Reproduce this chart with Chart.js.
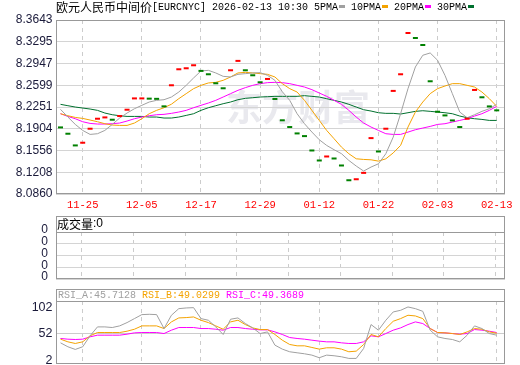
<!DOCTYPE html>
<html>
<head>
<meta charset="utf-8">
<script src="https://cdn.jsdelivr.net/npm/chart.js@4/dist/chart.umd.min.js"></script>
<style>
  body { margin: 0; background: #fff; }
  canvas { position: absolute; left: 0; }
</style>
</head>
<body>
<canvas id="main" width="520" height="212" style="top:0"></canvas>
<canvas id="vol" width="520" height="70" style="top:212px"></canvas>
<canvas id="rsi" width="520" height="81" style="top:284px"></canvas>
<script>
// trading days shown (central parity, EUR/CNY)
const dates = ['11-20','11-21','11-24','11-25','11-26','11-27','11-28','12-01','12-02','12-03',
  '12-04','12-05','12-08','12-09','12-10','12-11','12-12','12-15','12-16','12-17',
  '12-18','12-19','12-22','12-23','12-24','12-25','12-26','12-29','12-30','12-31',
  '01-05','01-06','01-07','01-08','01-09','01-12','01-13','01-14','01-15','01-16',
  '01-19','01-20','01-21','01-22','01-23','01-26','01-27','01-28','01-29','01-30',
  '02-02','02-03','02-04','02-05','02-06','02-09','02-10','02-11','02-12','02-13']
const tickDates = ['11-25','12-05','12-17','12-29','01-12','01-22','02-03','02-13']
const yTicks = [8.3643, 8.3295, 8.2947, 8.2599, 8.2251, 8.1904, 8.1556, 8.1208, 8.0860]

const closes = [8.1925, 8.1824, 8.1637, 8.1680, 8.1904, 8.2064, 8.2085, 8.2048, 8.2107, 8.2208,
  8.2389, 8.2389, 8.2385, 8.2382, 8.2262, 8.2599, 8.2855, 8.2871, 8.2919, 8.2829,
  8.2775, 8.2631, 8.2551, 8.2839, 8.2989, 8.2839, 8.2759, 8.2647, 8.2700, 8.2380,
  8.2039, 8.1931, 8.1829, 8.1786, 8.1556, 8.1396, 8.1460, 8.1428, 8.1316, 8.1080,
  8.1096, 8.1198, 8.1754, 8.1540, 8.1904, 8.2509, 8.2775, 8.3435, 8.3355, 8.3243,
  8.2663, 8.2176, 8.2117, 8.2037, 8.1931, 8.2064, 8.2524, 8.2407, 8.2261, 8.2198]

const ma5 = [8.2214, 8.2091, 8.1973, 8.1877, 8.1813, 8.1824, 8.1877, 8.1973, 8.2075, 8.2155,
  8.2224, 8.2278, 8.2331, 8.2358, 8.2368, 8.2411, 8.2491, 8.2598, 8.2716, 8.2828,
  8.2838, 8.2796, 8.2742, 8.2732, 8.2774, 8.2785, 8.2796, 8.2801, 8.2758, 8.2678,
  8.2496, 8.2358, 8.2144, 8.1984, 8.1851, 8.1728, 8.1637, 8.1568, 8.1505, 8.1397,
  8.1307, 8.1227, 8.1291, 8.1343, 8.1504, 8.1770, 8.2144, 8.2545, 8.2892, 8.3079,
  8.3116, 8.2999, 8.2758, 8.2465, 8.2171, 8.2080, 8.2128, 8.2182, 8.2224, 8.2294]

const ma10 = [8.2144, 8.2112, 8.2085, 8.2069, 8.2043, 8.2016, 8.1984, 8.1963, 8.1957, 8.1957,
  8.1995, 8.2064, 8.2144, 8.2198, 8.2240, 8.2296, 8.2385, 8.2465, 8.2545, 8.2598,
  8.2636, 8.2646, 8.2678, 8.2732, 8.2796, 8.2806, 8.2796, 8.2785, 8.2774, 8.2732,
  8.2625, 8.2545, 8.2491, 8.2358, 8.2198, 8.2037, 8.1877, 8.1744, 8.1610, 8.1504,
  8.1423, 8.1413, 8.1407, 8.1386, 8.1423, 8.1517, 8.1637, 8.1931, 8.2171, 8.2331,
  8.2465, 8.2545, 8.2587, 8.2625, 8.2625, 8.2598, 8.2571, 8.2491, 8.2385, 8.2262]

const ma20 = [8.2144, 8.2101, 8.2064, 8.2016, 8.1989, 8.1979, 8.1979, 8.1984, 8.1995, 8.2027,
  8.2064, 8.2091, 8.2112, 8.2128, 8.2134, 8.2150, 8.2171, 8.2198, 8.2240, 8.2278,
  8.2315, 8.2358, 8.2411, 8.2465, 8.2518, 8.2561, 8.2598, 8.2625, 8.2641, 8.2646,
  8.2641, 8.2625, 8.2598, 8.2571, 8.2529, 8.2475, 8.2422, 8.2358, 8.2294, 8.2198,
  8.2091, 8.1995, 8.1931, 8.1877, 8.1824, 8.1813, 8.1813, 8.1850, 8.1888, 8.1915,
  8.1941, 8.1973, 8.1984, 8.2011, 8.2037, 8.2064, 8.2107, 8.2144, 8.2198, 8.2262]

const ma30 = [8.2294, 8.2272, 8.2251, 8.2235, 8.2219, 8.2198, 8.2155, 8.2128, 8.2112, 8.2101,
  8.2101, 8.2101, 8.2091, 8.2091, 8.2075, 8.2075, 8.2091, 8.2117, 8.2144, 8.2198,
  8.2240, 8.2272, 8.2304, 8.2331, 8.2368, 8.2390, 8.2400, 8.2411, 8.2416, 8.2422,
  8.2422, 8.2422, 8.2422, 8.2433, 8.2422, 8.2411, 8.2384, 8.2358, 8.2331, 8.2294,
  8.2251, 8.2208, 8.2187, 8.2160, 8.2150, 8.2150, 8.2139, 8.2160, 8.2182, 8.2192,
  8.2182, 8.2171, 8.2160, 8.2144, 8.2107, 8.2080, 8.2064, 8.2053, 8.2037, 8.2037]

const volume = new Array(60).fill(0)

const rsiA = [35.1, 27.7, 22.7, 27.7, 48.3, 65.1, 65.1, 63.9, 67.0, 73.2,
  80.7, 88.2, 88.8, 88.2, 62.0, 87.0, 99.4, 100.7, 101.3, 80.7,
  77.6, 65.1, 50.8, 79.5, 82.0, 71.4, 63.2, 52.6, 55.7, 30.8,
  23.3, 18.3, 16.4, 14.5, 12.0, 7.1, 12.0, 10.8, 8.9, 5.8,
  5.8, 24.5, 69.5, 58.9, 77.6, 93.2, 96.3, 102.6, 99.4, 94.4,
  58.9, 46.4, 43.3, 41.4, 37.0, 49.5, 67.0, 62.0, 52.6, 49.5]
const rsiB = [42.0, 37.0, 33.9, 37.0, 48.3, 54.5, 54.5, 54.5, 54.5, 57.0,
  60.7, 67.0, 67.0, 67.0, 62.0, 74.5, 82.0, 82.6, 83.8, 77.6,
  73.2, 67.0, 60.7, 74.5, 77.6, 69.5, 63.2, 60.1, 60.1, 50.8,
  40.1, 32.0, 29.5, 29.5, 26.4, 23.3, 25.8, 25.8, 23.3, 18.3,
  19.5, 32.0, 50.8, 46.4, 62.0, 75.7, 80.7, 87.0, 85.7, 80.7,
  62.0, 54.5, 53.9, 52.6, 50.8, 55.7, 62.0, 60.7, 55.7, 53.2]
const rsiC = [43.3, 42.0, 41.4, 42.0, 46.4, 49.5, 49.5, 49.5, 49.5, 51.4,
  53.9, 54.5, 54.5, 54.5, 52.6, 58.9, 63.9, 63.9, 63.9, 62.0,
  62.0, 60.7, 58.9, 63.9, 63.9, 62.0, 60.7, 59.5, 59.5, 55.7,
  50.8, 45.1, 43.3, 42.0, 40.1, 38.3, 37.0, 37.0, 35.1, 33.9,
  33.9, 37.0, 48.3, 46.4, 52.6, 58.9, 63.2, 69.5, 74.5, 71.4,
  62.0, 54.5, 53.9, 52.6, 51.4, 52.6, 60.1, 58.9, 57.0, 54.5]
const rsiTicks = [102, 52, 2]
const rsiLabels = ['RSI_A:45.7128', 'RSI_B:49.0299', 'RSI_C:49.3689']

const maNames = ['5PMA', '10PMA', '20PMA', '30PMA']
const maColors = ['#a0a0a0', '#f4a300', '#ff00ff', '#00702e']
const UP = '#ff0000', DOWN = '#008000'

const pts = arr => arr.map((v, i) => ({ x: i, y: v }))
const tickIdx = tickDates.map(d => dates.indexOf(d))
// red when the fix rose (or held) vs the day before, green when it fell
const closeColors = closes.map((v, i) => (i > 0 && v >= closes[i - 1]) ? UP : DOWN)

const MONO = '"Liberation Mono", "DejaVu Sans Mono", monospace'
const CJK = '"Noto Sans CJK SC", sans-serif'
const SANS = '"Liberation Sans", Arial, sans-serif'

function monoText(ctx, str, x, y, color) {
  ctx.fillStyle = color
  ctx.font = '11px ' + MONO
  ctx.fillText(str, x, y, str.length * 6)
  return x + str.length * 6
}
function cjkText(ctx, str, x, y, color) {
  ctx.fillStyle = color
  ctx.font = '12px ' + CJK
  ctx.fillText(str, x, y)
  return x + ctx.measureText(str).width
}

// box round the plot area, plus an optional header strip above it
const frame = {
  id: 'frame',
  afterDraw(chart, args, opts) {
    const { ctx, chartArea: a } = chart
    const l = Math.round(a.left) + 0.5, r = Math.round(a.right) - 0.5
    const t = Math.round(a.top) + 0.5, b = Math.round(a.bottom) - 0.5
    ctx.save()
    ctx.strokeStyle = '#999'
    ctx.lineWidth = 1
    ctx.strokeRect(l, t, r - l, b - t)
    if (opts.header) ctx.strokeRect(l, t - opts.header, r - l, opts.header)
    ctx.textBaseline = 'middle'
    if (opts.draw) opts.draw(ctx, a)
    ctx.restore()
  }
}

const watermark = {
  id: 'watermark',
  beforeDraw(chart) {
    const ctx = chart.ctx
    ctx.save()
    ctx.fillStyle = '#e9e9ee'
    ctx.font = 'bold 36px ' + CJK
    ctx.textBaseline = 'middle'
    ctx.fillText('东方财富', 226, 107)
    ctx.restore()
  }
}

// y axes keep a fixed width and do not push the plot in for their labels
const fitY = s => {
  s.width = 56
  s.paddingTop = 0
  s.paddingBottom = 0
}

const xBase = {
  type: 'linear',
  min: -0.61,
  max: 60.12,
  afterBuildTicks: s => { s.ticks = tickIdx.map(v => ({ value: v })) },
  border: { display: false, dash: [4, 4] },
  grid: { color: '#cccccc', drawTicks: false }
}
const common = {
  responsive: false,
  animation: false,
  devicePixelRatio: 1,
  events: []
}
const noLegend = { legend: { display: false }, tooltip: { enabled: false } }

new Chart(document.getElementById('main'), {
  type: 'line',
  data: {
    datasets: [
      {
        data: pts(closes),
        showLine: false,
        pointStyle: 'line',
        pointRadius: 2.5,
        pointBorderWidth: 2,
        pointBorderColor: closeColors
      },
      ...[ma5, ma10, ma20, ma30].map((arr, k) => ({
        data: pts(arr),
        borderColor: maColors[k],
        borderWidth: 1,
        pointRadius: 0,
        tension: 0
      }))
    ]
  },
  options: {
    ...common,
    layout: { padding: { top: 20, right: 15, left: 0, bottom: 0 } },
    plugins: {
      ...noLegend,
      frame: {
        draw(ctx) {
          let x = cjkText(ctx, '欧元人民币中间价', 56, 7, '#000')
          x = monoText(ctx, '[EURCNYC] 2026-02-13 10:30 ', x, 7, '#000')
          maNames.forEach((n, k) => {
            x = monoText(ctx, n, x, 7, '#000')
            ctx.fillStyle = maColors[k]
            ctx.fillRect(x + 1, 5, 6, 3)
            x += 13
          })
        }
      }
    },
    scales: {
      x: {
        ...xBase,
        afterFit: s => { s.height = 18 },
        ticks: {
          color: '#ff0000',
          padding: 5,
          maxRotation: 0,
          font: { family: MONO, size: 10.5 },
          callback: v => dates[v]
        }
      },
      y: {
        min: 8.0860,
        max: 8.3643,
        afterBuildTicks: s => { s.ticks = yTicks.map(v => ({ value: v })) },
        afterFit: fitY,
        border: { display: false },
        grid: { color: '#d4d4d4', drawTicks: false },
        ticks: {
          color: '#1a1a3a',
          padding: 3.5,
          autoSkip: false,
          font: { family: SANS, size: 12 },
          callback: v => v.toFixed(4)
        }
      }
    }
  },
  plugins: [watermark, frame]
})

const maxVol = Math.max(...volume)
new Chart(document.getElementById('vol'), {
  type: 'bar',
  data: { datasets: [{ data: pts(volume), backgroundColor: '#ff0000' }] },
  options: {
    ...common,
    layout: { padding: { top: 20, right: 15, left: 0, bottom: 3 } },
    plugins: {
      ...noLegend,
      frame: {
        header: 16,
        draw(ctx, a) {
          const x = cjkText(ctx, '成交量', 57, a.top - 8, '#000')
          ctx.font = '12px ' + SANS
          ctx.fillText(':' + volume[volume.length - 1], x, a.top - 8)
        }
      }
    },
    scales: {
      x: { ...xBase, afterFit: s => { s.height = 0 }, ticks: { display: false } },
      y: {
        min: 0,
        max: 4,
        afterBuildTicks: s => { s.ticks = [0, 1, 2, 3, 4].map(v => ({ value: v })) },
        afterFit: fitY,
        border: { display: false },
        grid: { color: '#d4d4d4', drawTicks: false },
        ticks: {
          color: '#1a1a3a',
          padding: 8,
          autoSkip: false,
          labelOffset: -2,
          font: { family: SANS, size: 12 },
          callback: v => String(maxVol * v / 4)
        }
      }
    }
  },
  plugins: [frame]
})

new Chart(document.getElementById('rsi'), {
  type: 'line',
  data: {
    datasets: [rsiA, rsiB, rsiC].map((arr, k) => ({
      data: pts(arr),
      borderColor: maColors[k],
      borderWidth: 1,
      pointRadius: 0,
      tension: 0
    }))
  },
  options: {
    ...common,
    layout: { padding: { top: 17, right: 15, left: 0, bottom: 1 } },
    plugins: {
      ...noLegend,
      frame: {
        header: 12,
        draw(ctx, a) {
          let x = 58
          rsiLabels.forEach((s, k) => {
            x = monoText(ctx, s, x, a.top - 6, maColors[k]) + 6
          })
        }
      }
    },
    scales: {
      x: { ...xBase, afterFit: s => { s.height = 0 }, ticks: { display: false } },
      y: {
        min: -4.7,
        max: 113.8,
        afterBuildTicks: s => { s.ticks = rsiTicks.map(v => ({ value: v })) },
        afterFit: fitY,
        border: { display: false },
        grid: {
          drawTicks: false,
          color: c => (c.tick && c.tick.value === 52) ? '#cccccc' : 'rgba(0,0,0,0)'
        },
        ticks: {
          color: '#1a1a3a',
          padding: 3.5,
          autoSkip: false,
          font: { family: SANS, size: 12.5 }
        }
      }
    }
  },
  plugins: [frame]
})
</script>
</body>
</html>
